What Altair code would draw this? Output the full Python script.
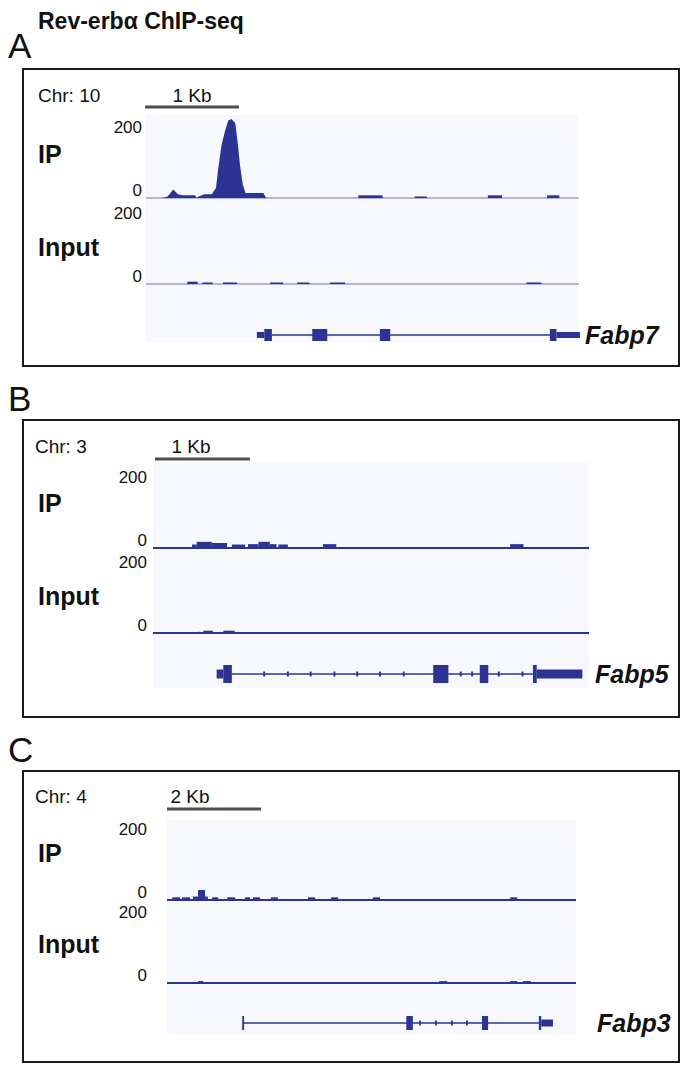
import altair as alt
import pandas as pd

# ---------------- data ----------------
TITLE = "Rev-erbα ChIP-seq"
PANEL_LETTERS = ["A", "B", "C"]
CHROMS = ["Chr: 10", "Chr: 3", "Chr: 4"]
GENES = ["Fabp7", "Fabp5", "Fabp3"]
SCALE_LABELS = ["1 Kb", "1 Kb", "2 Kb"]
SCALE_BAR_START = [-0.01, 0.02, 0.0]   # kb
SCALE_BAR_LEN = [1.0, 1.0, 2.0]        # kb
WINDOW_KB = [4.61, 4.59, 8.70]         # genomic window shown (kb)
TICK_VALUES = [0, 200]
TICK_LABELS = ["0", "200"]

# Panel A (Fabp7) - IP peak profile (kb, reads)
a_ip_pos = [0.00, 0.17, 0.23, 0.29, 0.34, 0.39, 0.52, 0.54, 0.56, 0.62, 0.70, 0.745,
            0.77, 0.805, 0.84, 0.875, 0.91, 0.95, 0.975, 1.00, 1.03, 1.06, 1.25, 1.28]
a_ip_val = [0, 0, 4, 22, 10, 7, 7, 0, 4, 10, 10, 26,
            78, 139, 173, 201, 205, 195, 147, 87, 35, 13, 13, 0]
a_ip_blip_start = [2.26, 2.86, 3.64, 4.27]
a_ip_blip_end = [2.52, 2.99, 3.79, 4.40]
a_ip_blip_val = [7, 4, 7, 7]
a_in_blip_start = [0.44, 0.60, 0.82, 1.32, 1.61, 1.96, 4.05]
a_in_blip_end = [0.55, 0.71, 0.97, 1.46, 1.74, 2.12, 4.21]
a_in_blip_val = [6, 4, 4, 4, 4, 4, 4]
a_gene_start = [1.18, 1.26, 1.77, 2.49, 4.30, 4.37]
a_gene_end = [1.26, 1.34, 1.93, 2.60, 4.37, 4.62]
a_gene_kind = ["utr", "cds", "cds", "cds", "cds", "utr"]
a_intron = [1.34, 4.30]

# Panel B (Fabp5)
b_ip_blip_start = [0.41, 0.46, 0.62, 0.83, 1.00, 1.11, 1.23, 1.32, 1.79, 3.76]
b_ip_blip_end = [0.46, 0.62, 0.78, 0.97, 1.11, 1.23, 1.30, 1.42, 1.93, 3.90]
b_ip_blip_val = [9, 16, 13, 9, 10, 16, 10, 9, 10, 10]
b_in_blip_start = [0.47, 0.53, 0.74]
b_in_blip_end = [0.50, 0.63, 0.86]
b_in_blip_val = [3, 6, 6]
b_gene_start = [0.67, 0.74, 2.95, 3.44, 4.00, 4.04, 1.16, 1.41, 1.65, 1.90, 2.14, 2.38, 2.63, 3.23, 3.35, 3.63, 3.88]
b_gene_end = [0.74, 0.83, 3.11, 3.53, 4.04, 4.52, 1.18, 1.43, 1.67, 1.92, 2.16, 2.40, 2.65, 3.25, 3.37, 3.65, 3.90]
b_gene_kind = ["utr", "cds", "cds", "cds", "cds", "utr", "mark", "mark", "mark", "mark", "mark",
               "mark", "mark", "mark", "mark", "mark", "mark"]
b_intron = [0.83, 4.00]

# Panel C (Fabp3)
c_ip_blip_start = [0.11, 0.32, 0.55, 0.66, 0.81, 0.96, 1.28, 1.66, 1.83, 2.21, 3.00, 3.49, 4.38, 7.30]
c_ip_blip_end = [0.28, 0.49, 0.66, 0.81, 0.87, 1.09, 1.45, 1.77, 1.98, 2.36, 3.15, 3.64, 4.53, 7.45]
c_ip_blip_val = [7, 7, 9, 26, 9, 7, 7, 7, 7, 7, 7, 7, 7, 7]
c_in_blip_start = [0.66, 5.79, 7.30, 7.57]
c_in_blip_end = [0.77, 5.96, 7.45, 7.74]
c_in_blip_val = [5, 5, 5, 5]
c_gene_start = [1.60, 5.09, 5.36, 5.70, 6.04, 6.36, 6.70, 7.91, 7.96]
c_gene_end = [1.64, 5.23, 5.40, 5.74, 6.08, 6.40, 6.83, 7.96, 8.21]
c_gene_kind = ["cds", "cds", "tick", "tick", "tick", "tick", "cds", "cds", "utr"]
c_intron = [1.62, 7.94]

# ---------------- styling / layout ----------------
NAVY = "#2c3493"
LIGHT = "#6b70cc"
BG = "#f7f8fd"
INK = "#111111"
FONT = "Liberation Sans"
HALF = {"cds": 1.0, "utr": 0.5, "tick": 0.35, "mark": 0.28}

W, H = 657, 987
PANEL_TOP = [0, 351, 702]
PANEL_H = [297, 297, 291]
X_RANGE = [(123, 556), (130, 566), (144, 553)]
IP_RANGE = [(129, 52), (479, 402), (831, 754)]
IN_RANGE = [(215, 138), (564, 487), (914, 837)]
GENE_RANGE = [(272, 260), (614, 596), (961, 947)]
BG_Y = [(46, 273), (394, 619), (751, 966)]
BG_X = [(-0.01, 4.60), (0.0, 4.59), (0.0, 8.70)]
BAR_Y = [38, 390, 740]
CHR_POS = [(15, 33), (12, 384), (12, 734)]
KB_POS = [(169, 33), (168, 384), (167, 734)]
IP_POS = [(15, 94), (15, 443), (15, 793)]
INPUT_POS = [(15, 187), (15, 536), (15, 884)]
GENE_POS = [(562, 275), (572, 614), (574, 963)]
LETTER_Y = [-11, 342, 693]
TICK_X = [119, 124, 124]
TICK_DY = [-2, 12]
BASE_COLOR = [LIGHT, NAVY, NAVY]
BASE_W = [1.0, 2.2, 1.8]

ip_blips = [(a_ip_blip_start, a_ip_blip_end, a_ip_blip_val),
            (b_ip_blip_start, b_ip_blip_end, b_ip_blip_val),
            (c_ip_blip_start, c_ip_blip_end, c_ip_blip_val)]
in_blips = [(a_in_blip_start, a_in_blip_end, a_in_blip_val),
            (b_in_blip_start, b_in_blip_end, b_in_blip_val),
            (c_in_blip_start, c_in_blip_end, c_in_blip_val)]
genes = [(a_gene_start, a_gene_end, a_gene_kind, a_intron),
         (b_gene_start, b_gene_end, b_gene_kind, b_intron),
         (c_gene_start, c_gene_end, c_gene_kind, c_intron)]

dummy = pd.DataFrame({"k": [0]})


def xsc(p):
    return alt.Scale(domain=[0, WINDOW_KB[p]], range=list(X_RANGE[p]), nice=False, zero=False)


def ysc(rng, dom=(0, 200)):
    return alt.Scale(domain=list(dom), range=list(rng), nice=False, zero=False)


def text_layer(txt, x, y, size, weight="normal", style="normal", align="left"):
    return alt.Chart(dummy).mark_text(
        text=txt, font=FONT, fontSize=size, fontWeight=weight, fontStyle=style,
        align=align, baseline="alphabetic", color=INK
    ).encode(x=alt.value(x), y=alt.value(y))


layers = []
layers.append(text_layer(TITLE, 15, -40, 23, weight="bold"))

for p in range(3):
    L = WINDOW_KB[p]
    # frame
    layers.append(alt.Chart(dummy).mark_rect(filled=False, stroke="#1b1b1b", strokeWidth=2).encode(
        x=alt.value(0), x2=alt.value(656),
        y=alt.value(PANEL_TOP[p]), y2=alt.value(PANEL_TOP[p] + PANEL_H[p])))
    # track background
    layers.append(alt.Chart(pd.DataFrame({"s": [BG_X[p][0]], "e": [BG_X[p][1]]})).mark_rect(color=BG).encode(
        x=alt.X("s:Q", scale=xsc(p), axis=None), x2="e:Q",
        y=alt.value(BG_Y[p][0]), y2=alt.value(BG_Y[p][1])))
    # scale bar
    layers.append(alt.Chart(pd.DataFrame({"s": [SCALE_BAR_START[p]],
                                          "e": [SCALE_BAR_START[p] + SCALE_BAR_LEN[p]]}))
                  .mark_rule(color="#4d4d4d", strokeWidth=3).encode(
        x=alt.X("s:Q", scale=xsc(p), axis=None), x2="e:Q", y=alt.value(BAR_Y[p])))

    for rng, blips in ((IP_RANGE[p], ip_blips[p]), (IN_RANGE[p], in_blips[p])):
        # baseline
        layers.append(alt.Chart(pd.DataFrame({"s": [0.0], "e": [L], "v": [0]}))
                      .mark_rule(color=BASE_COLOR[p], strokeWidth=BASE_W[p]).encode(
            x=alt.X("s:Q", scale=xsc(p), axis=None), x2="e:Q",
            y=alt.Y("v:Q", scale=ysc(rng), axis=None)))
        # signal bins
        s, e, v = blips
        layers.append(alt.Chart(pd.DataFrame({"s": s, "e": e, "v": v, "z": [0] * len(v)}))
                      .mark_rect(color=NAVY).encode(
            x=alt.X("s:Q", scale=xsc(p), axis=None), x2="e:Q",
            y=alt.Y("v:Q", scale=ysc(rng), axis=None), y2="z:Q"))
        # tick labels
        for val, lab, dy in zip(TICK_VALUES, TICK_LABELS, TICK_DY):
            layers.append(alt.Chart(pd.DataFrame({"v": [val], "t": [lab]})).mark_text(
                font=FONT, fontSize=17, align="right", baseline="alphabetic", dy=dy, color=INK).encode(
                x=alt.value(TICK_X[p]), y=alt.Y("v:Q", scale=ysc(rng), axis=None), text="t:N"))

    if p == 0:
        layers.append(alt.Chart(pd.DataFrame({"pos": a_ip_pos, "val": a_ip_val}))
                      .mark_area(color=NAVY, interpolate="linear").encode(
            x=alt.X("pos:Q", scale=xsc(p), axis=None),
            y=alt.Y("val:Q", scale=ysc(IP_RANGE[p]), axis=None)))

    # gene model
    gs, ge, gk, intr = genes[p]
    layers.append(alt.Chart(pd.DataFrame({"s": [intr[0]], "e": [intr[1]], "v": [0]}))
                  .mark_rule(color=NAVY, strokeWidth=1.6).encode(
        x=alt.X("s:Q", scale=xsc(p), axis=None), x2="e:Q",
        y=alt.Y("v:Q", scale=ysc(GENE_RANGE[p], (-1, 1)), axis=None)))
    gdf = pd.DataFrame({"s": gs, "e": ge, "kind": gk})
    gdf["lo"] = [-HALF[k] for k in gk]
    gdf["hi"] = [HALF[k] for k in gk]
    layers.append(alt.Chart(gdf).mark_rect(color=NAVY).encode(
        x=alt.X("s:Q", scale=xsc(p), axis=None), x2="e:Q",
        y=alt.Y("lo:Q", scale=ysc(GENE_RANGE[p], (-1, 1)), axis=None), y2="hi:Q"))

    # texts
    layers.append(text_layer(PANEL_LETTERS[p], -15, LETTER_Y[p], 35))
    layers.append(text_layer(CHROMS[p], CHR_POS[p][0], CHR_POS[p][1], 19))
    layers.append(text_layer(SCALE_LABELS[p], KB_POS[p][0], KB_POS[p][1], 19, align="center"))
    layers.append(text_layer("IP", IP_POS[p][0], IP_POS[p][1], 25, weight="bold"))
    layers.append(text_layer("Input", INPUT_POS[p][0], INPUT_POS[p][1], 25, weight="bold"))
    layers.append(text_layer(GENES[p], GENE_POS[p][0], GENE_POS[p][1], 25, weight="bold", style="italic"))

chart = alt.layer(*layers).resolve_scale(x="independent", y="independent").properties(
    width=W, height=H,
    padding={"left": 15, "top": 61, "right": 0, "bottom": 8},
    autosize=alt.AutoSizeParams(type="none"),
).configure_view(strokeWidth=0)

chart.save("out.html", embed_options={"renderer": "svg", "actions": False})
